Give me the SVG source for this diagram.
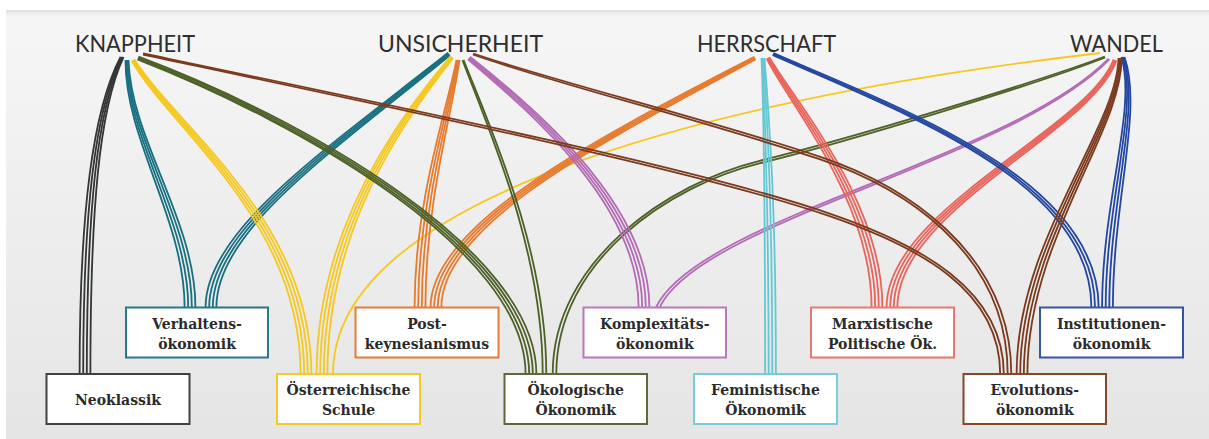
<svg xmlns="http://www.w3.org/2000/svg" width="1209" height="439" viewBox="0 0 1209 439">
<defs>
<linearGradient id="bg" x1="0" y1="0" x2="0" y2="1">
<stop offset="0" stop-color="#f6f6f6"/>
<stop offset="1" stop-color="#e5e5e5"/>
</linearGradient>
<linearGradient id="sh" x1="0" y1="0" x2="0" y2="1">
<stop offset="0" stop-color="#dcdcdc"/>
<stop offset="1" stop-color="#f6f6f6" stop-opacity="0"/>
</linearGradient>
</defs>
<style>
.c{fill:none;stroke-width:1.8;stroke-linecap:butt}
.bk{stroke:#333536}.te{stroke:#176f80}.ye{stroke:#f6c81e}.or{stroke:#e77a2c}.ol{stroke:#4c6027}
.pu{stroke:#b36bb5}.cy{stroke:#65c7d4}.re{stroke:#e9645b}.bl{stroke:#2347a0}.br{stroke:#7b3a1d}
.box{fill:#ffffff;stroke-width:2}
.lbl{font-family:"DejaVu Serif","Liberation Serif",serif;font-weight:bold;font-size:14px;fill:#2b2b2b;text-anchor:middle}
.hd{font-family:Lato,"Open Sans","Liberation Sans",sans-serif;font-weight:400;font-size:23px;fill:#2e2e2e}
</style>
<rect x="0" y="0" width="1209" height="439" fill="#ffffff"/>
<rect x="6" y="10" width="1203" height="429" fill="url(#bg)"/>
<rect x="6" y="10" width="1203" height="8" fill="url(#sh)"/>

<g id="connectors">
<path class="c bk" d="M120.5,57 C93,110 79.6,210 79.6,374"/>
<path class="c bk" d="M121.5,57 C95,110 83.2,210 83.2,374"/>
<path class="c bk" d="M122.5,57 C97,110 86.8,210 86.8,374"/>
<path class="c bk" d="M123.5,57 C99,110 90.4,210 90.4,374"/>
<path class="c te" d="M125.5,60 C125,140 184.6,220 184.6,307"/>
<path class="c te" d="M126.5,60 C127,140 188.2,220 188.2,307"/>
<path class="c te" d="M127.5,60 C129,140 191.8,220 191.8,307"/>
<path class="c te" d="M128.5,60 C131,140 195.4,220 195.4,307"/>
<path class="c te" d="M448.1,52.8 C328.1,147.7 205.6,230 205.6,307"/>
<path class="c te" d="M448.7,53.6 C329.4,149.2 209.2,230 209.2,307"/>
<path class="c te" d="M449.3,54.4 C330.6,150.8 212.8,230 212.8,307"/>
<path class="c te" d="M449.9,55.2 C331.9,152.3 216.4,230 216.4,307"/>
<path class="c ye" d="M131.7,60.8 C172.4,131.5 300.6,220 300.6,374"/>
<path class="c ye" d="M132.6,60.3 C174.1,130.5 304.2,220 304.2,374"/>
<path class="c ye" d="M133.4,59.7 C175.9,129.5 307.8,220 307.8,374"/>
<path class="c ye" d="M134.3,59.2 C177.6,128.5 311.4,220 311.4,374"/>
<path class="c ye" d="M450.8,56 C397.7,118.1 316.6,230 316.6,374"/>
<path class="c ye" d="M451.6,56.7 C399.2,119.4 320.2,230 320.2,374"/>
<path class="c ye" d="M452.4,57.3 C400.8,120.6 323.8,230 323.8,374"/>
<path class="c ye" d="M453.2,58 C402.3,121.9 327.4,230 327.4,374"/>
<path class="c ye" d="M1100,53 C700,100 333,200 333,374"/>
<path class="c or" d="M456.5,60 C447,110 414.6,200 414.6,307"/>
<path class="c or" d="M457.5,60 C449,110 418.2,200 418.2,307"/>
<path class="c or" d="M458.5,60 C451,110 421.8,200 421.8,307"/>
<path class="c or" d="M459.5,60 C453,110 425.4,200 425.4,307"/>
<path class="c or" d="M754.3,56.7 C618.6,127.4 430.6,220 430.6,307"/>
<path class="c or" d="M754.8,57.6 C619.5,129.1 434.2,220 434.2,307"/>
<path class="c or" d="M755.2,58.4 C620.5,130.9 437.8,220 437.8,307"/>
<path class="c or" d="M755.7,59.3 C621.4,132.6 441.4,220 441.4,307"/>
<path class="c ol" d="M137.5,59.4 C298.9,122.8 525.6,250 525.6,374"/>
<path class="c ol" d="M137.8,58.5 C299.6,120.9 529.2,250 529.2,374"/>
<path class="c ol" d="M138.2,57.5 C300.4,119.1 532.8,250 532.8,374"/>
<path class="c ol" d="M138.5,56.6 C301.1,117.2 536.4,250 536.4,374"/>
<path class="c ol" d="M462.5,60.2 C489.1,130.4 542.7,250 542.7,374"/>
<path class="c ol" d="M463.5,59.8 C490.9,129.6 546.3,250 546.3,374"/>
<path class="c ol" d="M1104.8,56.5 C1039.6,81.1 849.7,138.8 759.7,160.8 C669.7,182.8 552.7,260 552.7,374"/>
<path class="c ol" d="M1105.2,57.5 C1040.4,82.9 850.3,141.2 760.3,163.2 C670.3,185.2 556.3,260 556.3,374"/>
<path class="c pu" d="M468,59.2 C518.1,102.3 638.6,200 638.6,307"/>
<path class="c pu" d="M468.7,58.4 C519.4,100.8 642.2,200 642.2,307"/>
<path class="c pu" d="M469.3,57.6 C520.6,99.2 645.8,200 645.8,307"/>
<path class="c pu" d="M470,56.8 C521.9,97.7 649.4,200 649.4,307"/>
<path class="c pu" d="M1108.6,58.7 C1009.3,159.3 698.4,219.2 656.2,307"/>
<path class="c pu" d="M1109.4,59.4 C1010.7,160.7 701.6,220.8 659.8,307"/>
<path class="c cy" d="M761.5,58 C764,120 765.1,200 765.1,374"/>
<path class="c cy" d="M762.5,58 C765,120 768.7,200 768.7,374"/>
<path class="c cy" d="M763.5,58 C767,120 772.3,200 772.3,374"/>
<path class="c cy" d="M764.5,58 C769,120 775.9,200 775.9,374"/>
<path class="c re" d="M766.7,58.7 C787.3,101.4 871.6,200 871.6,307"/>
<path class="c re" d="M767.6,58.2 C789.1,100.5 875.2,200 875.2,307"/>
<path class="c re" d="M768.4,57.8 C790.9,99.5 878.8,200 878.8,307"/>
<path class="c re" d="M769.3,57.3 C792.7,98.6 882.4,200 882.4,307"/>
<path class="c re" d="M1113.6,59.5 C1087.2,129 886.6,210 886.6,307"/>
<path class="c re" d="M1114.5,59.8 C1089.1,129.7 890.2,210 890.2,307"/>
<path class="c re" d="M1115.5,60.2 C1090.9,130.3 893.8,210 893.8,307"/>
<path class="c re" d="M1116.4,60.5 C1092.8,131 897.4,210 897.4,307"/>
<path class="c bl" d="M772.6,54.9 C899.2,111.8 1091.4,180 1091.4,307"/>
<path class="c bl" d="M773,54 C900,110 1095,180 1095,307"/>
<path class="c bl" d="M773.4,53.1 C900.8,108.2 1098.6,180 1098.6,307"/>
<path class="c bl" d="M1121.5,57 C1137,110 1102.1,200 1102.1,307"/>
<path class="c bl" d="M1122.5,57 C1139,110 1105.7,200 1105.7,307"/>
<path class="c bl" d="M1123.5,57 C1141,110 1109.3,200 1109.3,307"/>
<path class="c bl" d="M1124.5,57 C1143,110 1112.9,200 1112.9,307"/>
<path class="c br" d="M142.9,54.5 C399.8,109 699.6,171.2 829.6,216.2 C919.6,247.2 1000.2,290 1000.2,374"/>
<path class="c br" d="M143.1,53.5 C400.2,107 700.4,168.8 830.4,213.8 C920.4,244.8 1003.8,290 1003.8,374"/>
<path class="c br" d="M472.8,54.5 C559.7,85 699.6,119.2 819.6,159.2 C899.6,186.2 1007.7,250 1007.7,374"/>
<path class="c br" d="M473.2,53.5 C560.3,83 700.4,116.8 820.4,156.8 C900.4,183.8 1011.3,250 1011.3,374"/>
<path class="c br" d="M1118.5,58 C1117,130 1016.6,240 1016.6,374"/>
<path class="c br" d="M1119.5,58 C1119,130 1020.2,240 1020.2,374"/>
<path class="c br" d="M1120.5,58 C1121,130 1023.8,240 1023.8,374"/>
<path class="c br" d="M1121.5,58 C1123,130 1027.4,240 1027.4,374"/>
</g>

<g id="knappheit"><text class="hd" x="75" y="52" textLength="120" lengthAdjust="spacingAndGlyphs">KNAPPHEIT</text></g>
<g id="unsicherheit"><text class="hd" x="378" y="52" textLength="165" lengthAdjust="spacingAndGlyphs">UNSICHERHEIT</text></g>
<g id="herrschaft"><text class="hd" x="697" y="52" textLength="139" lengthAdjust="spacingAndGlyphs">HERRSCHAFT</text></g>
<g id="wandel"><text class="hd" x="1070" y="52" textLength="93" lengthAdjust="spacingAndGlyphs">WANDEL</text></g>

<g id="neoklassik">
<rect class="box" x="46.5" y="374" width="143" height="50" stroke="#3f4142"/>
<text class="lbl" x="118" y="405">Neoklassik</text>
</g>
<g id="verhaltensoekonomik">
<rect class="box" x="126" y="307.5" width="142" height="50" stroke="#2a7888"/>
<text class="lbl" x="197" y="328.5">Verhaltens-</text>
<text class="lbl" x="197" y="348.5">ökonomik</text>
</g>
<g id="oesterreichische-schule">
<rect class="box" x="277" y="374" width="143" height="50" stroke="#f4c92a"/>
<text class="lbl" x="348.5" y="395">Österreichische</text>
<text class="lbl" x="348.5" y="415">Schule</text>
</g>
<g id="postkeynesianismus">
<rect class="box" x="355.5" y="307.5" width="143" height="50" stroke="#e37d3a"/>
<text class="lbl" x="427" y="328.5">Post-</text>
<text class="lbl" x="427" y="348.5">keynesianismus</text>
</g>
<g id="oekologische-oekonomik">
<rect class="box" x="504.5" y="374" width="142.5" height="50" stroke="#5b6a3c"/>
<text class="lbl" x="575.75" y="395">Ökologische</text>
<text class="lbl" x="575.75" y="415">Ökonomik</text>
</g>
<g id="komplexitaetsoekonomik">
<rect class="box" x="583.5" y="307.5" width="142.5" height="50" stroke="#b978bb"/>
<text class="lbl" x="654.75" y="328.5">Komplexitäts-</text>
<text class="lbl" x="654.75" y="348.5">ökonomik</text>
</g>
<g id="feministische-oekonomik">
<rect class="box" x="694" y="374" width="143" height="50" stroke="#79cdd8"/>
<text class="lbl" x="765.5" y="395">Feministische</text>
<text class="lbl" x="765.5" y="415">Ökonomik</text>
</g>
<g id="marxistische-politische-oekonomie">
<rect class="box" x="811" y="307.5" width="143" height="50" stroke="#e8786f"/>
<text class="lbl" x="882.5" y="328.5">Marxistische</text>
<text class="lbl" x="882.5" y="348.5">Politische Ök.</text>
</g>
<g id="institutionenoekonomik">
<rect class="box" x="1040" y="307.5" width="143" height="50" stroke="#3554a3"/>
<text class="lbl" x="1111.5" y="328.5">Institutionen-</text>
<text class="lbl" x="1111.5" y="348.5">ökonomik</text>
</g>
<g id="evolutionsoekonomik">
<rect class="box" x="963.5" y="374" width="142.5" height="50" stroke="#84472a"/>
<text class="lbl" x="1034.75" y="395">Evolutions-</text>
<text class="lbl" x="1034.75" y="415">ökonomik</text>
</g>
</svg>
